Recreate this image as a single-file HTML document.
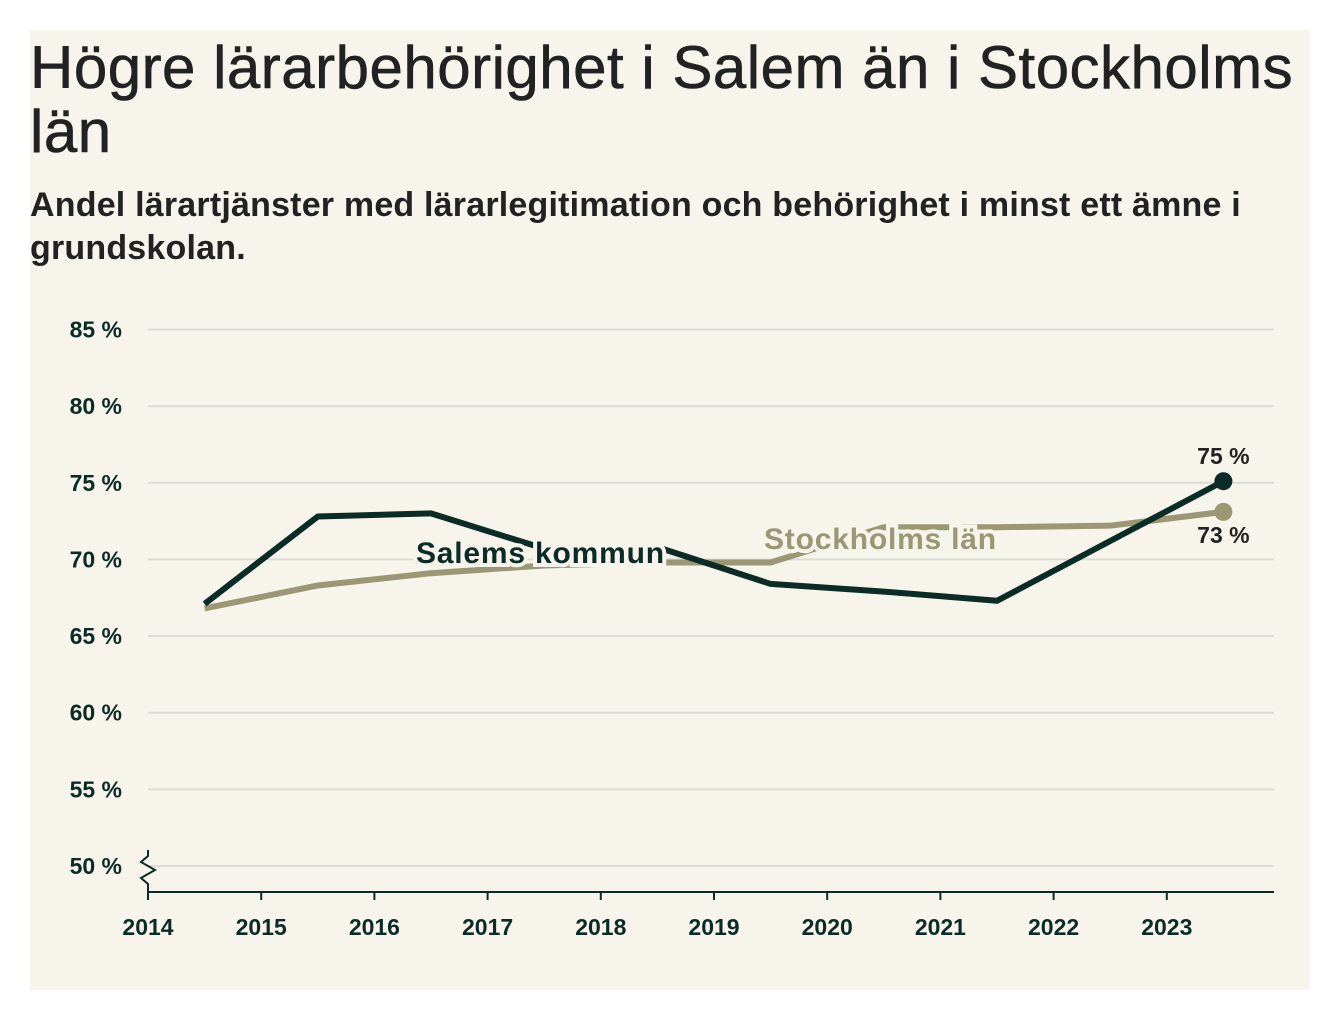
<!DOCTYPE html>
<html><head><meta charset="utf-8"><style>
body{margin:0;background:#fff;width:1340px;height:1020px;overflow:hidden;font-family:"Liberation Sans",sans-serif}
#card{position:absolute;left:30px;top:30px;width:1280px;height:960px;background:#f7f5eb}
h1{position:absolute;left:0;top:6px;margin:0;font-size:60px;line-height:64px;font-weight:normal;color:#222;width:1300px;letter-spacing:0.5px;-webkit-text-stroke:0.6px #222}
#sub{position:absolute;left:0;top:154px;font-size:34px;line-height:43px;color:#222;font-weight:bold;width:1260px;letter-spacing:0.2px}
svg{position:absolute;left:0;top:0}
</style></head><body>
<div id="card">
<h1>Högre lärarbehörighet i Salem än i Stockholms län</h1>
<div id="sub">Andel lärartjänster med lärarlegitimation och behörighet i minst ett ämne i grundskolan.</div>
</div>
<svg id="chart" width="1340" height="1020"></svg>
<script>
const years=[2014.5,2015.5,2016.5,2017.5,2018.5,2019.5,2020.5,2021.5,2022.5,2023.5];
const salem=[67.1,72.8,73.0,70.7,70.8,68.4,67.9,67.3,71.2,75.1];
const sthlm=[66.8,68.3,69.1,69.6,69.8,69.8,72.1,72.1,72.2,73.1];
const yTicks=[50,55,60,65,70,75,80,85];
const xTicks=[2014,2015,2016,2017,2018,2019,2020,2021,2022,2023];
const x=v=>148+(v-2014)*113.2;
const y=v=>866-(v-50)*15.33;
const svg=document.getElementById('chart');
const NS='http://www.w3.org/2000/svg';
function mk(t,a,p){const e=document.createElementNS(NS,t);for(const k in a)e.setAttribute(k,a[k]);(p||svg).appendChild(e);return e;}
const F='"Liberation Sans",sans-serif';
yTicks.forEach(t=>{
 const g=mk('line',{x1:148,x2:1274,y1:y(t),y2:y(t),stroke:'#dcdcd6','stroke-width':2});
 
 
 const l=mk('text',{x:122,y:y(t)+8,'text-anchor':'end','font-size':23,'font-weight':'bold',fill:'#0b2b26','font-family':F});
 l.textContent=t+' %';
 
 
});
const ax=mk('line',{x1:148,x2:1274,y1:892,y2:892,stroke:'#0b2b26','stroke-width':2});


const br=mk('path',{d:'M148,850 L148,856 L141,862 L155,870 L141,878 L148,884 L148,892',fill:'none',stroke:'#0b2b26','stroke-width':2});


xTicks.forEach(t=>{
 const tk=mk('line',{x1:x(t),x2:x(t),y1:892,y2:900,stroke:'#0b2b26','stroke-width':2});
 
 
 const l=mk('text',{x:x(t),y:935,'text-anchor':'middle','font-size':23,'font-weight':'bold',fill:'#0b2b26','font-family':F});
 l.textContent=t;
 
 
});
function series(vals,col,name){
 const p=mk('polyline',{points:vals.map((v,i)=>x(years[i])+','+y(v)).join(' '),fill:'none',stroke:col,'stroke-width':6,'stroke-linejoin':'round'});
 
 
 const n=vals.length-1;
 const c=mk('circle',{cx:x(years[n]),cy:y(vals[n]),r:9,fill:col});
 
 
}
series(sthlm,'#9b9673','stockholm');
series(salem,'#0b2b26','salem');
function label(txt,xx,yy,col,name){
 const t=mk('text',{x:xx,y:yy,'font-size':30,'font-weight':'bold',fill:col,'font-family':F,stroke:'#f7f5eb','stroke-width':8,'paint-order':'stroke','letter-spacing':'0.8'});
 t.textContent=txt;
 
 
}
label('Salems kommun',416,563,'#0b2b26','salem-series-label');
label('Stockholms län',764,549,'#9b9673','stockholm-series-label');
const n=years.length-1;
const v1=mk('text',{x:x(years[n]),y:y(salem[n])-17,'text-anchor':'middle','font-size':23,'font-weight':'bold',fill:'#222','font-family':F});
v1.textContent=Math.round(salem[n])+' %';


const v2=mk('text',{x:x(years[n]),y:y(sthlm[n])+31,'text-anchor':'middle','font-size':23,'font-weight':'bold',fill:'#222','font-family':F});
v2.textContent=Math.round(sthlm[n])+' %';


</script>
</body></html>
